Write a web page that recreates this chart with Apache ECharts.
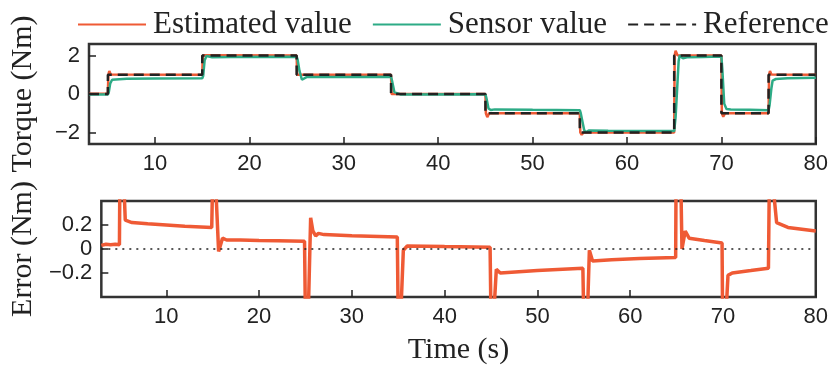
<!DOCTYPE html>
<html>
<head>
<meta charset="utf-8">
<script src="https://cdn.jsdelivr.net/npm/echarts@6/dist/echarts.min.js"></script>
<style>
  html, body { margin: 0; padding: 0; background: #fff; }
  #chart { width: 831px; height: 366px; }
</style>
</head>
<body>
<div id="chart"></div>
<script>
// time ticks and y ticks
const timeTicks = [10, 20, 30, 40, 50, 60, 70, 80]
const torqueTicks = [-2, 0, 2]
const errorTicks = [-0.2, 0, 0.2]

// reference torque (step profile) [t, Nm]
const referenceData = [
  [3, 0], [5, 0], [5, 1], [15, 1], [15, 2], [25, 2], [25, 1], [35, 1], [35, 0],
  [45, 0], [45, -1], [55, -1], [55, -2], [65, -2], [65, 2], [70, 2], [70, -1],
  [75, -1], [75, 1], [80, 1]
]

// estimated torque [t, Nm]
const estimatedData = [
  [3, 0.01], [5, 0.01], [5.05, 1.0], [5.15, 1.2], [5.3, 1.02], [15, 1.0],
  [15.05, 2.0], [15.15, 2.1], [15.3, 2.02], [25, 2.0],
  [25.05, 1.0], [25.2, 0.93], [25.4, 1.0], [35, 1.0],
  [35.05, 0.0], [35.2, -0.08], [35.4, 0.0], [45, 0.0],
  [45.05, -1.0], [45.2, -1.2], [45.4, -1.0], [55, -1.0],
  [55.05, -2.0], [55.2, -2.12], [55.4, -2.0], [65, -2.0],
  [65.05, 2.0], [65.15, 2.25], [65.35, 2.02], [70, 2.0],
  [70.05, -1.0], [70.2, -1.18], [70.4, -1.0], [75, -1.0],
  [75.05, 1.0], [75.15, 1.2], [75.3, 1.02], [80, 1.0]
]

// sensor torque [t, Nm]
const sensorData = [
  [3, -0.03], [5, -0.03], [5.1, 0.1], [5.25, 0.55], [5.45, 0.74], [5.6, 0.76],
  [7, 0.79], [10, 0.8], [15, 0.82],
  [15.1, 0.95], [15.25, 1.75], [15.45, 1.98], [15.64, 2.02], [16.06, 1.91],
  [18, 1.925], [25, 1.935],
  [25.1, 1.8], [25.3, 1.2], [25.56, 0.74], [26.1, 0.89], [30, 0.89], [35, 0.9],
  [35.1, 0.7], [35.35, 0.1], [35.55, 0.01], [36, -0.02], [45, -0.015],
  [45.1, -0.2], [45.33, -0.75], [45.57, -0.83], [46, -0.8], [50, -0.82], [55, -0.84],
  [55.1, -1.0], [55.45, -1.85], [55.6, -1.99], [55.94, -1.9], [58, -1.91], [65, -1.93],
  [65.15, -1.2], [65.3, 0.15], [65.47, 1.7], [65.58, 2.0], [65.93, 1.85], [66.35, 1.91],
  [68, 1.93], [70, 1.95],
  [70.1, 1.3], [70.3, -0.5], [70.54, -0.78], [71, -0.8], [73, -0.82], [75, -0.84],
  [75.1, -0.6], [75.3, 0.3], [75.43, 0.7], [75.78, 0.78], [77, 0.82], [80, 0.85]
]

// estimation error [t, Nm]
const errorData = [
  [3, 0.03], [3.5, 0.04], [4, 0.035], [4.5, 0.04], [4.95, 0.035],
  [5.0, 0.6], [5.2, 1.0], [5.45, 0.5], [5.58, 0.24], [6.3, 0.22], [8, 0.21],
  [10, 0.2], [12, 0.19], [14.9, 0.18],
  [15.0, 0.6], [15.2, 0.9], [15.4, 0.4], [15.64, -0.02], [16.06, 0.09], [16.5, 0.075],
  [18, 0.075], [20, 0.07], [22, 0.068], [24.9, 0.065],
  [25.0, -0.6], [25.2, -0.9], [25.35, -0.4], [25.56, 0.26], [25.8, 0.15], [26.1, 0.11],
  [26.4, 0.13], [27, 0.12], [30, 0.11], [34.9, 0.1],
  [35.0, -0.6], [35.2, -0.9], [35.35, -0.4], [35.55, -0.01], [35.97, 0.025],
  [40, 0.02], [44.9, 0.015],
  [45.0, -0.6], [45.2, -0.9], [45.33, -0.5], [45.57, -0.17], [46, -0.2], [50, -0.18],
  [54.9, -0.16],
  [55.0, -0.6], [55.2, -0.9], [55.45, -0.4], [55.6, -0.01], [55.94, -0.1], [58, -0.09],
  [61, -0.08], [64.9, -0.07],
  [65.0, 1.5], [65.3, 2.0], [65.47, 0.5], [65.58, 0.0], [65.93, 0.15], [66.35, 0.09],
  [68, 0.07], [69.9, 0.05],
  [70.0, -1.0], [70.2, -2.0], [70.35, -0.5], [70.54, -0.22], [71, -0.2], [73, -0.18],
  [74.9, -0.16],
  [75.0, 0.6], [75.2, 1.2], [75.43, 0.5], [75.78, 0.22], [77, 0.18], [80, 0.15]
]

const ORANGE = '#ef5a35'
const GREEN = '#2dab86'
const DARK = '#222'

const serif = 'Liberation Serif'
const sans = 'Liberation Sans'

const fmtTick = (v) => {
  const s = String(Math.round(v * 10) / 10)
  return s.replace('-', '\u2212')
}

const tickStyle = (values) => ({
  show: true, inside: true, length: 7, customValues: values,
  lineStyle: { color: DARK, width: 1.5 }
})

const labelStyle = (values) => ({
  customValues: values, margin: 9, formatter: fmtTick,
  color: DARK, fontFamily: sans, fontSize: 22
})

const nameStyle = { fontFamily: serif, fontSize: 30, color: DARK }

const commonX = (gridIndex) => ({
  type: 'value',
  gridIndex,
  min: 3,
  max: 80,
  axisLine: { show: false, onZero: false },
  splitLine: { show: false },
  axisTick: tickStyle(timeTicks),
  axisLabel: labelStyle(timeTicks)
})

const chart = echarts.init(document.getElementById('chart'))

chart.setOption({
  animation: false,
  legend: {
    data: ['Estimated value', 'Sensor value', 'Reference'],
    top: 9,
    left: 77,
    padding: 0,
    itemWidth: 68,
    itemHeight: 14,
    itemGap: 20,
    itemStyle: { opacity: 0 },
    textStyle: { fontFamily: serif, fontSize: 31, color: DARK, padding: [0, 0, 0, 2] }
  },
  grid: [
    { left: 82, top: 44, width: 735, height: 100, show: true, borderColor: '#333', borderWidth: 2.5 },
    { left: 82, top: 201, width: 735, height: 98, show: true, borderColor: '#333', borderWidth: 2.5 }
  ],
  xAxis: [
    commonX(0),
    Object.assign(commonX(1), {
      name: 'Time (s)',
      nameLocation: 'middle',
      nameGap: 38,
      nameTextStyle: nameStyle
    })
  ],
  yAxis: [
    {
      type: 'value',
      gridIndex: 0,
      min: -2.6,
      max: 2.6,
      name: 'Torque (Nm)',
      nameLocation: 'middle',
      nameGap: 51,
      nameTextStyle: nameStyle,
      axisLine: { show: false },
      splitLine: { show: false },
      axisTick: tickStyle(torqueTicks),
      axisLabel: labelStyle(torqueTicks)
    },
    {
      type: 'value',
      gridIndex: 1,
      min: -0.4,
      max: 0.4,
      name: 'Error (Nm)',
      nameLocation: 'middle',
      nameGap: 51,
      nameTextStyle: nameStyle,
      axisLine: { show: false },
      splitLine: { show: false },
      axisTick: tickStyle(errorTicks),
      axisLabel: labelStyle(errorTicks)
    }
  ],
  series: [
    {
      name: 'Estimated value',
      type: 'line',
      xAxisIndex: 0,
      yAxisIndex: 0,
      data: estimatedData,
      symbol: 'none',
      color: ORANGE,
      lineStyle: { color: ORANGE, width: 2.5 }
    },
    {
      name: 'Sensor value',
      type: 'line',
      xAxisIndex: 0,
      yAxisIndex: 0,
      data: sensorData,
      symbol: 'none',
      color: GREEN,
      lineStyle: { color: GREEN, width: 2.5 }
    },
    {
      name: 'Reference',
      type: 'line',
      xAxisIndex: 0,
      yAxisIndex: 0,
      data: referenceData,
      symbol: 'none',
      color: DARK,
      lineStyle: { color: DARK, width: 2.5, type: [10, 6] }
    },
    {
      name: 'Error',
      type: 'line',
      xAxisIndex: 1,
      yAxisIndex: 1,
      data: errorData,
      symbol: 'none',
      z: 3,
      color: ORANGE,
      lineStyle: { color: ORANGE, width: 3.5 }
    },
    {
      name: 'Zero',
      type: 'line',
      xAxisIndex: 1,
      yAxisIndex: 1,
      data: [],
      z: 1,
      markLine: {
        silent: true,
        symbol: ['none', 'none'],
        label: { show: false },
        lineStyle: { color: DARK, width: 1.5, type: [2, 5] },
        data: [{ yAxis: 0 }]
      }
    }
  ]
})
</script>
</body>
</html>
